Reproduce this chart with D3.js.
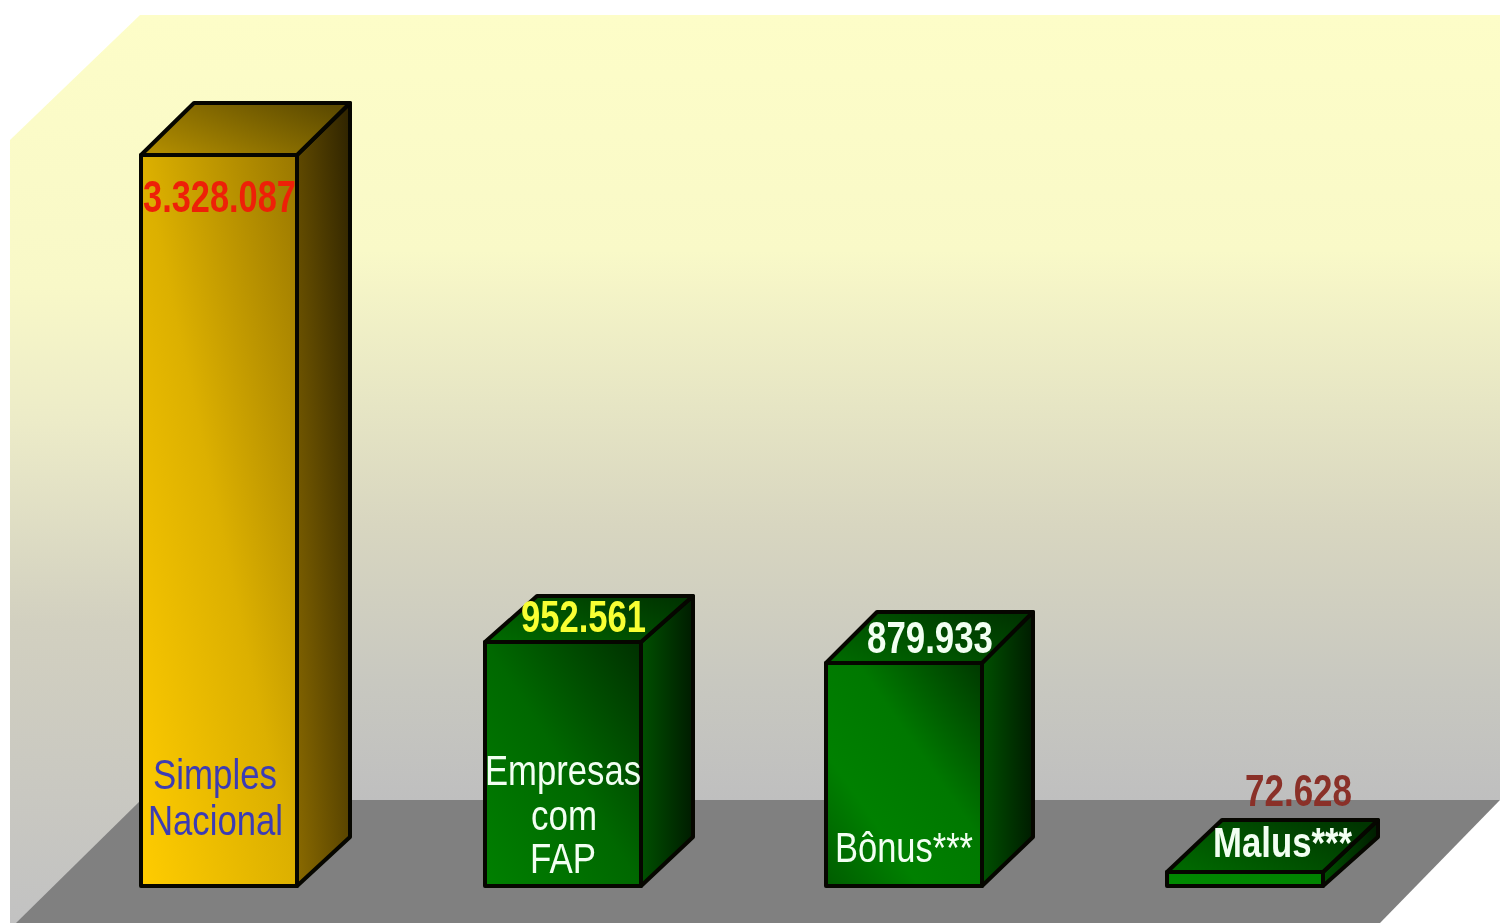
<!DOCTYPE html>
<html>
<head>
<meta charset="utf-8">
<script src="https://cdn.jsdelivr.net/npm/d3@7"></script>
<style>
  html, body { margin: 0; padding: 0; background: #fff; overflow: hidden; }
  svg { display: block; filter: blur(0.7px); }
  text { font-family: "Liberation Sans", Arial, sans-serif; }
</style>
</head>
<body>
<div id="chart"></div>
<script>
// values
var categories = ["Simples\nNacional", "Empresas\ncom\nFAP", "Bônus***", "Malus***"];
var values = [3328087, 952561, 879933, 72628];
var valueColors = ["#ee2008", "#f8ff33", "#f2fff2", "#8a3028"];
var labelColors = ["#3c3cb4", "#f2fff2", "#f2fff2", "#f2fff2"];

var width = 1500, height = 923;
var baseY = 886, barWidth = 156, floorDepth = 49;
// the 3d offsets differ a little from bar to bar in the original
var depthX = [53, 52, 51, 55];
var topDepth = [52, 46, 51, 52];

var svg = d3.select("#chart").append("svg")
  .attr("width", width)
  .attr("height", height);

var x = d3.scaleOrdinal()
  .domain(categories)
  .range([141, 485, 826, 1167]);

// the bars in the original are not quite to scale, so the scale goes through
// the drawn heights instead of a single straight line
var y = d3.scaleLinear()
  .domain([0, 72628, 879933, 952561, 3328087])
  .range([baseY, 872, 663, 642, 155]);

var fmt = d3.formatLocale({decimal: ",", thousands: ".", grouping: [3], currency: ["R$", ""]}).format(",d");

// gradients
var defs = svg.append("defs");

function linear(id, x1, y1, x2, y2, stops) {
  var g = defs.append("linearGradient").attr("id", id)
    .attr("x1", x1).attr("y1", y1).attr("x2", x2).attr("y2", y2);
  stops.forEach(function(s) {
    g.append("stop").attr("offset", s[0]).attr("stop-color", s[1]);
  });
}

linear("wallFill", 0, 0, 0, 1, [[0, "#fdfdc8"], [0.3, "#f9f9c8"], [0.5, "#e6e5c4"], [0.65, "#d8d6c0"], [0.85, "#c8c8c0"], [1, "#bfbfbf"]]);
linear("sideWallFill", 0, 0, 0, 1, [[0, "#fdfdc8"], [0.3, "#f8f8c8"], [0.45, "#ecebc8"], [0.67, "#d2d0c0"], [1, "#c2c2c2"]]);
linear("goldFront", 0, 1, 1, 0, [[0, "#ffcc00"], [0.5, "#dcb000"], [1, "#9a7800"]]);
linear("goldSide", 0, 1, 1, 0, [[0, "#8a6a00"], [1, "#2e2300"]]);
linear("goldTop", 0, 0.8, 1, 0.2, [[0, "#b08c00"], [1, "#5c4a00"]]);
linear("greenFront", 0, 1, 1, 0, [[0, "#008000"], [0.5, "#006800"], [1, "#003000"]]);
linear("greenBand", 0, 1, 1, 0, [[0, "#008c00"], [1, "#008000"]]);
linear("greenRound", 0, 1, 1, 0, [[0, "#005c00"], [0.3, "#008000"], [0.6, "#007800"], [1, "#003800"]]);
linear("greenSide", 0, 0.5, 1, 0.5, [[0, "#005000"], [1, "#001c00"]]);
linear("greenTop", 0, 0.8, 1, 0.2, [[0, "#006800"], [1, "#003400"]]);

var barStyle = [
  {front: "goldFront", side: "goldSide", top: "goldTop"},
  {front: "greenFront", side: "greenSide", top: "greenTop"},
  {front: "greenRound", side: "greenSide", top: "greenTop"},
  {front: "greenBand", side: "greenSide", top: "greenTop"}
];

// back wall, side wall and floor
var line = d3.line();
svg.append("path")
  .attr("d", line([[10, 140], [140, 15], [140, 923], [10, 923]]) + "Z")
  .attr("fill", "url(#sideWallFill)");
svg.append("path")
  .attr("d", line([[140, 15], [1500, 15], [1500, 800], [140, 800]]) + "Z")
  .attr("fill", "url(#wallFill)");
svg.append("path")
  .attr("d", line([[141, 800], [1500, 800], [1380, 923], [16, 923]]) + "Z")
  .attr("fill", "#808080");

// bars
var bars = svg.selectAll(".bar")
  .data(categories)
  .enter().append("g")
  .attr("class", "bar")
  .attr("stroke", "#060600")
  .attr("stroke-width", 4)
  .attr("stroke-linejoin", "round");

bars.append("path")
  .attr("fill", function(d, i) { return "url(#" + barStyle[i].side + ")"; })
  .attr("d", function(d, i) {
    var r = x(d) + barWidth, t = y(values[i]), xx = r + depthX[i];
    return line([[r, t], [xx, t - topDepth[i]], [xx, baseY - floorDepth], [r, baseY]]) + "Z";
  });

bars.append("path")
  .attr("fill", function(d, i) { return "url(#" + barStyle[i].top + ")"; })
  .attr("d", function(d, i) {
    var l = x(d), r = l + barWidth, t = y(values[i]), back = t - topDepth[i];
    return line([[l, t], [l + depthX[i], back], [r + depthX[i], back], [r, t]]) + "Z";
  });

bars.append("rect")
  .attr("fill", function(d, i) { return "url(#" + barStyle[i].front + ")"; })
  .attr("x", function(d) { return x(d); })
  .attr("y", function(d, i) { return y(values[i]); })
  .attr("width", barWidth)
  .attr("height", function(d, i) { return baseY - y(values[i]); });

// text is squeezed in the original, so every line gets its own box
function putText(lines, boxes, color, bold, size) {
  var t = svg.append("text")
    .attr("font-size", size)
    .attr("font-weight", bold ? "bold" : "normal")
    .attr("fill", color);
  lines.forEach(function(str, j) {
    var b = boxes[j];
    t.append("tspan")
      .attr("x", b[0])
      .attr("y", b[2])
      .attr("textLength", b[1] - b[0])
      .attr("lengthAdjust", "spacingAndGlyphs")
      .text(str);
  });
}

var valueBoxes = [[143, 296, 212], [521, 646, 632], [867, 993, 653], [1245, 1352, 806]];
values.forEach(function(v, i) {
  putText([fmt(v)], [valueBoxes[i]], valueColors[i], true, 44);
});

var labelBoxes = [
  [[153, 277, 789], [148, 283, 835]],
  [[485, 641, 785], [531, 597, 830], [530, 596, 873]],
  [[835, 973, 862]],
  [[1213, 1352, 857]]
];
categories.forEach(function(c, i) {
  putText(c.split("\n"), labelBoxes[i], labelColors[i], i === 3, 42);
});
</script>
</body>
</html>
